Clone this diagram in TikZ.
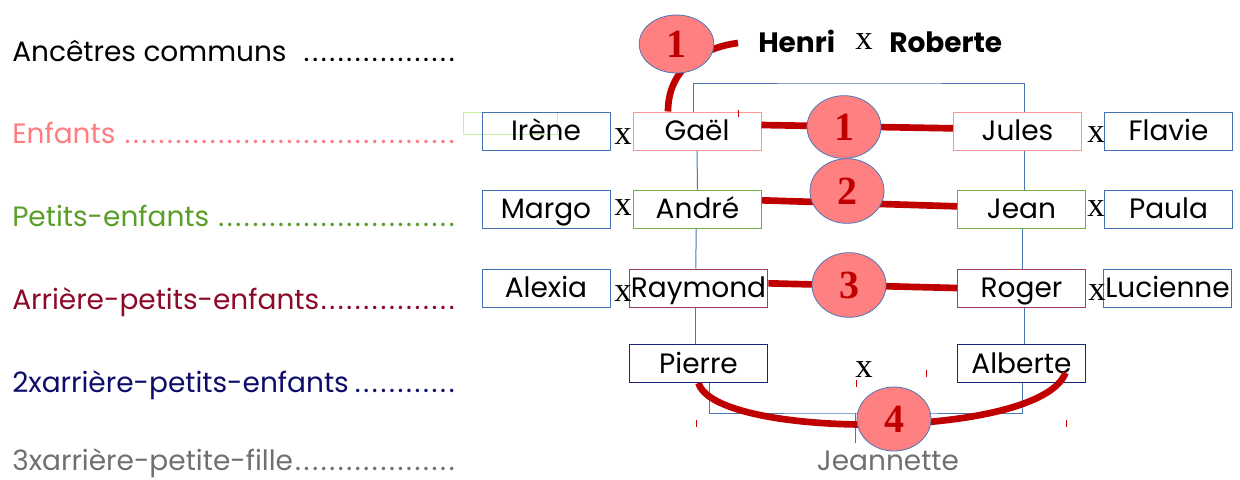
\documentclass[tikz,border=0pt]{standalone}
\usepackage{fontspec}
\setmainfont{Poppins}
\newfontfamily\serifx{Liberation Serif}
\usetikzlibrary{shapes.geometric}
\definecolor{salmon}{RGB}{255,128,128}
\definecolor{enfcol}{RGB}{255,124,128}
\definecolor{petcol}{RGB}{90,158,42}
\definecolor{arrcol}{RGB}{139,10,42}
\definecolor{navcol}{RGB}{12,12,106}
\definecolor{grycol}{RGB}{112,112,112}
\definecolor{kinred}{RGB}{192,0,0}
\definecolor{linkblue}{RGB}{74,118,184}
\definecolor{pinkbox}{RGB}{255,150,150}
\definecolor{greenbox}{RGB}{112,173,71}
\definecolor{wine}{RGB}{160,64,80}
\definecolor{navybox}{RGB}{26,35,126}
\definecolor{steelbox}{RGB}{68,114,176}
\definecolor{paleg}{RGB}{200,240,160}
\newcommand\rowlabel[2][336pt]{\makebox[#1][l]{#2\leaders\hbox to 6.4pt{\hss.\hss}\hfill}}
\tikzset{
  person/.style={draw=steelbox, line width=0.75pt, minimum width=96pt, minimum height=28.5pt,
    inner sep=0pt, text height=14.5pt, text depth=0pt, font=\fontsize{21}{24}\selectfont},
  rowtext/.style={anchor=base west, inner sep=0pt, font=\fontsize{21}{24}\selectfont},
  cross/.style={inner sep=0pt, font=\serifx\fontsize{26}{26}\selectfont},
  badge/.style={ellipse, draw=linkblue, line width=0.6pt, fill=salmon, minimum width=55.5pt,
    minimum height=47pt, inner sep=0pt, text=kinred, font=\serifx\bfseries\fontsize{30}{30}\selectfont},
  kinline/.style={draw=kinred, line width=5pt},
  link/.style={draw=linkblue, line width=0.75pt},
  tick/.style={draw=kinred, line width=0.75pt}
}
\begin{document}
\begin{tikzpicture}[x=0.75pt,y=0.75pt,yscale=-1,xscale=1]
\useasboundingbox (0,0) rectangle (1240,479);
% Row labels
\node[rowtext] (lanc) at (12,61) {\rowlabel{Ancêtres communs }};
\node[rowtext, text=enfcol] (lenf) at (12,143) {\rowlabel{Enfants }};
\node[rowtext, text=petcol] (lpet) at (12,226) {\rowlabel{Petits-enfants }};
\node[rowtext, text=arrcol] (larr) at (12,309) {\rowlabel[333pt]{Arrière-petits-enfants}};
\node[rowtext, text=navcol] (ldeux) at (12,392) {\rowlabel[333pt]{2xarrière-petits-enfants}};
\node[rowtext, text=grycol] (ltrois) at (12,470) {\rowlabel{3xarrière-petite-fille}};
% stray frame
\draw[draw=paleg, line width=0.75pt] (463,112) rectangle (557,134);
% Ancestors
\node[rowtext, font=\bfseries\fontsize{21}{24}\selectfont] (henri) at (758,52) {Henri};
\node[cross] (x0) at (864,41.5) {x};
\node[rowtext, font=\bfseries\fontsize{21}{24}\selectfont] (roberte) at (889,52) {Roberte};
% Persons
\node[person] (irene) at (546,131) {Irène};
\node[person, draw=pinkbox] (gael) at (697,131) {Gaël};
\node[person, draw=pinkbox] (jules) at (1017.5,131) {Jules};
\node[person] (flavie) at (1168.5,131) {Flavie};
\node[person] (margo) at (546,209) {Margo};
\node[person, draw=greenbox] (andre) at (697.5,209) {André};
\node[person, draw=greenbox] (jean) at (1021.5,209) {Jean};
\node[person] (paula) at (1168.5,209) {Paula};
\node[person] (alexia) at (546,288) {Alexia};
\node[person, draw=wine, minimum width=104pt] (raymond) at (698.5,288) {Raymond};
\node[person, draw=wine] (roger) at (1021.5,288) {Roger};
\node[person] (lucienne) at (1167.5,288) {Lucienne};
\node[person, draw=navybox, minimum width=104pt] (pierre) at (698.5,363.5) {Pierre};
\node[person, draw=navybox] (alberte) at (1021.5,363.5) {Alberte};
\node[rowtext, anchor=base, text=grycol] (jeannette) at (888,470) {Jeannette};
% Marriage signs
\node[cross] (x1) at (623,137) {x};
\node[cross] (x2) at (1096,135) {x};
\node[cross] (x3) at (623,208) {x};
\node[cross] (x4) at (1096,209) {x};
\node[cross] (x5) at (623,294) {x};
\node[cross] (x6) at (1097,293) {x};
\node[cross] (x7) at (864,370) {x};
% Descent lines
\coordinate (topbar) at (860,83);
\draw[link] ([xshift=-3pt]gael.north) |- (topbar) -| ([xshift=5.6pt]jules.north);
\draw[link] (gael.south) -- (andre.north);
\draw[link] ([xshift=-1pt]andre.south) -- ([xshift=-2pt]raymond.north);
\draw[link] ([xshift=-2pt]raymond.south) -- ([xshift=-2pt]pierre.north);
\draw[link] ([xshift=5.6pt]jules.south) -- ([xshift=2.6pt]jean.north);
\draw[link] ([xshift=1pt]jean.south) -- ([xshift=1pt]roger.north);
\draw[link] ([xshift=2pt]roger.south) -- ([xshift=2pt]alberte.north);
\coordinate (jbar) at (855,413);
\draw[link] ([xshift=7.9pt]pierre.south) |- (jbar) -| ([xshift=0.4pt]alberte.south);
\draw[link] (jbar) -- ++(0,30);
% small red marks
\foreach \tx/\ty in {738/110, 696/420, 856/380, 926/370, 1066/420}
  \draw[tick] (\tx,\ty) -- ++(0,7);
% Kinship paths
\coordinate (henriend) at (738,43);
\draw[kinline] ([xshift=-21.75pt]gael.north) .. controls (668,70) and (700,48) .. (henriend);
\draw[kinline] ([yshift=-4.5pt]gael.east) -- ([yshift=-2pt]jules.west);
\draw[kinline] ([yshift=-6.5pt]andre.east) -- ([yshift=-2pt]jean.west);
\draw[kinline] ([yshift=-3.5pt]raymond.east) -- (roger.west);
\draw[kinline] (pierre.south) .. controls (715,440) and (1040,440) .. ([xshift=33pt,yshift=7pt]alberte.center);
% Degree badges
\node[badge, minimum width=56pt, minimum height=43.5pt] (n0) at (676.5,44) {1};
\node[badge] (n1) at (844,127) {1};
\node[badge, minimum height=48.5pt] (n2) at (847,191) {2};
\node[badge, minimum height=48.5pt] (n3) at (849,285) {3};
\node[badge, minimum height=48pt] (n4) at (894,419) {4};
\end{tikzpicture}
\end{document}
